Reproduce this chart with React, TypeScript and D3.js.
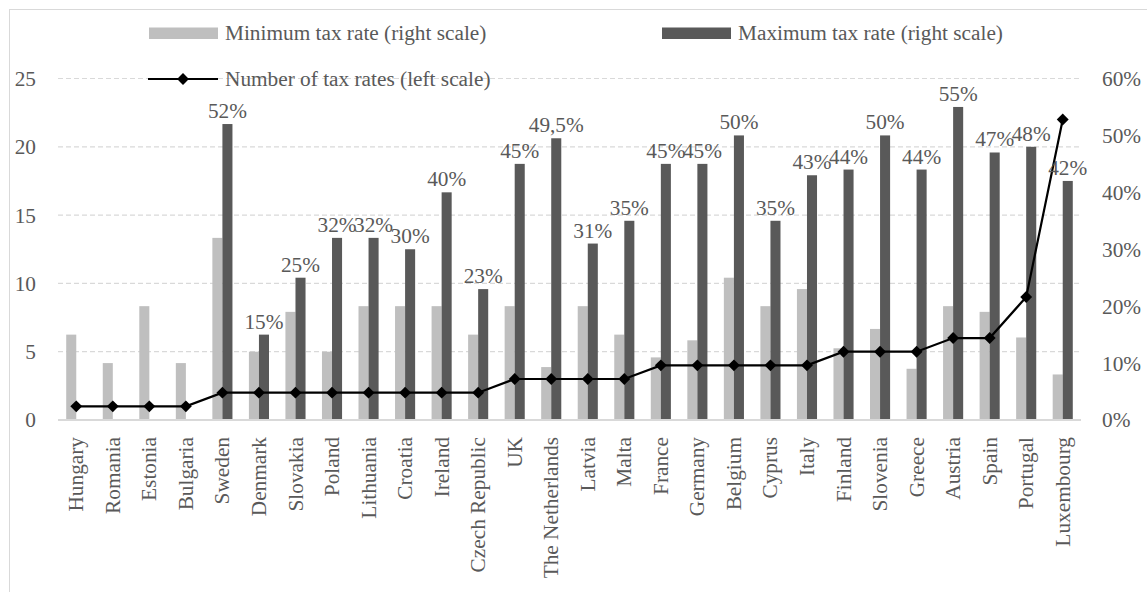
import React from "react";
import * as d3 from "d3";

const categories = ["Hungary","Romania","Estonia","Bulgaria","Sweden","Denmark","Slovakia","Poland","Lithuania","Croatia","Ireland","Czech Republic","UK","The Netherlands","Latvia","Malta","France","Germany","Belgium","Cyprus","Italy","Finland","Slovenia","Greece","Austria","Spain","Portugal","Luxembourg"];
const minRate: number[] = [15,10,20,10,32,12,19,12,20,20,20,15,20,9.3,20,15,11,14,25,20,23,12.6,16,9,20,19,14.5,8];
const maxRate: (number | null)[] = [null,null,null,null,52,15,25,32,32,30,40,23,45,49.5,31,35,45,45,50,35,43,44,50,44,55,47,48,42];
const maxLabels: (string | null)[] = [null,null,null,null,"52%","15%","25%","32%","32%","30%","40%","23%","45%","49,5%","31%","35%","45%","45%","50%","35%","43%","44%","50%","44%","55%","47%","48%","42%"];
const numRates: number[] = [1,1,1,1,2,2,2,2,2,2,2,2,3,3,3,3,4,4,4,4,4,5,5,5,6,6,9,22];
const leftTicks = [0,5,10,15,20,25];
const rightTicks = [0,10,20,30,40,50,60];

const W = 1147, H = 592;
const FONT = "'Liberation Serif','Times New Roman',serif";
const FS = 21.3;
const TXT = "#595959";

export default function App() {
  const x = d3.scaleBand<string>().domain(categories).range([58, 1081]).paddingInner(0).paddingOuter(0);
  const yL = d3.scaleLinear().domain([0, 25]).range([420, 78.5]);
  const yR = d3.scaleLinear().domain([0, 60]).range([420, 78.5]);
  const bw = x.bandwidth() * 0.275;
  const cx = (c: string) => (x(c) as number) + x.bandwidth() / 2;
  const line = d3.line<number>().x((_, i) => cx(categories[i])).y((d) => yL(d));
  const diamond = d3.symbol().type(d3.symbolDiamond2).size(90)();

  return (
    <svg width={W} height={H} style={{ display: "block", position: "absolute", left: 0, top: 0 }} fontFamily={FONT}>
      <rect x={0} y={0} width={W} height={H} fill="#fff" />
      <rect x={9.5} y={9.5} width={W + 20} height={H + 20} fill="none" stroke="#d9d9d9" strokeWidth={1} />
      {leftTicks.slice(1).map((t) => (
        <line key={"g" + t} x1={58} x2={1081} y1={yL(t)} y2={yL(t)} stroke="#d9d9d9" strokeWidth={1.2} strokeDasharray="5,3" />
      ))}
      {leftTicks.map((t) => (
        <text key={"l" + t} x={36} y={yL(t)} dy="0.35em" textAnchor="end" fontSize={FS} fill={TXT}>{t}</text>
      ))}
      {rightTicks.map((t) => (
        <text key={"r" + t} x={1102} y={yR(t)} dy="0.35em" textAnchor="start" fontSize={FS} fill={TXT}>{t + "%"}</text>
      ))}
      {categories.map((c, i) => (
        <rect key={"mn" + c} x={cx(c) - bw} y={yR(minRate[i])} width={bw} height={420 - yR(minRate[i])} fill="#bfbfbf" />
      ))}
      {categories.map((c, i) => maxRate[i] == null ? null : (
        <rect key={"mx" + c} x={cx(c)} y={yR(maxRate[i] as number)} width={bw} height={420 - yR(maxRate[i] as number)} fill="#595959" />
      ))}
      <line x1={58} x2={1081} y1={420} y2={420} stroke="#d9d9d9" strokeWidth={2} />
      <path d={line(numRates) || ""} fill="none" stroke="#000" strokeWidth={2.2} />
      {numRates.map((v, i) => (
        <path key={"m" + i} d={diamond || ""} transform={`translate(${cx(categories[i])},${yL(v)})`} fill="#000" />
      ))}
      {categories.map((c, i) => maxLabels[i] == null ? null : (
        <text key={"lb" + c} x={cx(c) + bw / 2} y={yR(maxRate[i] as number) - 6} textAnchor="middle" fontSize={FS} fill={TXT}>{maxLabels[i]}</text>
      ))}
      {categories.map((c) => (
        <text key={"x" + c} transform={`translate(${cx(c)},437) rotate(-90)`} dy="0.33em" textAnchor="end" fontSize={FS} fill={TXT}>{c}</text>
      ))}
      <rect x={149} y={27.5} width={69} height={11.5} fill="#bfbfbf" />
      <text x={225} y={33} dy="0.33em" fontSize={FS} fill={TXT}>Minimum tax rate (right scale)</text>
      <rect x={662} y={27.5} width={69} height={11.5} fill="#595959" />
      <text x={738} y={33} dy="0.33em" fontSize={FS} fill={TXT}>Maximum tax rate (right scale)</text>
      <line x1={148} x2={218} y1={79} y2={79} stroke="#000" strokeWidth={2.2} />
      <path d={diamond || ""} transform="translate(183,79)" fill="#000" />
      <text x={225} y={79} dy="0.33em" fontSize={FS} fill={TXT}>Number of tax rates (left scale)</text>
    </svg>
  );
}
